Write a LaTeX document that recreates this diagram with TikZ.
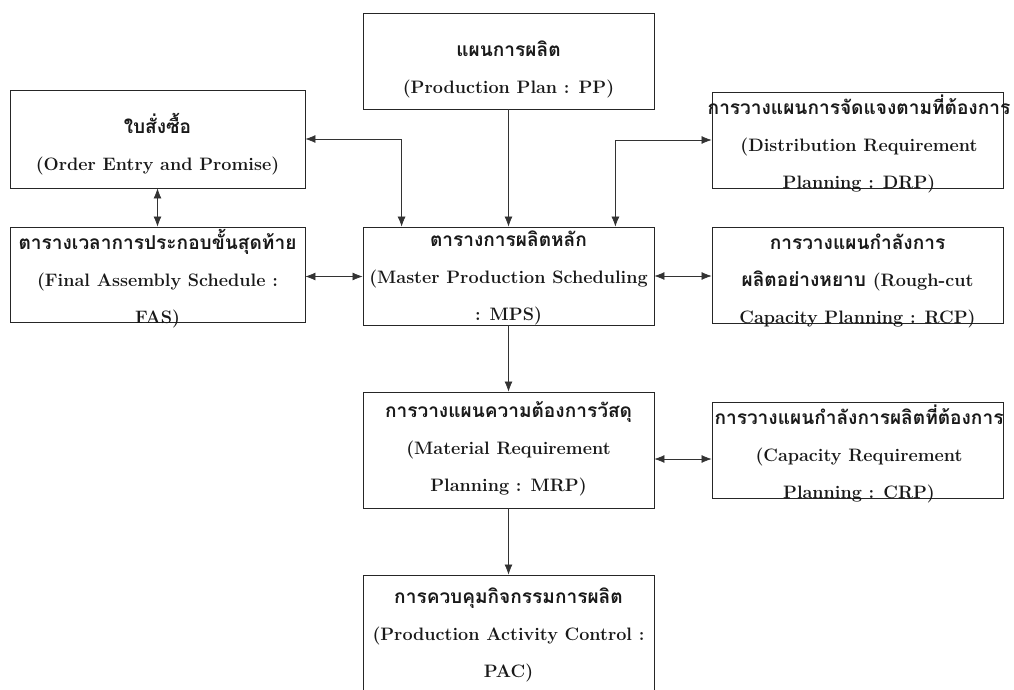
\documentclass[tikz,border=0pt]{standalone}
\usepackage{fontspec}
\newfontfamily\thaifont[Script=Thai,Scale=1.06]{Loma}
\usetikzlibrary{arrows.meta}
\tikzset{
  box/.style={draw=black!85, line width=0.8pt, rectangle, inner sep=0pt},
  txt/.style={align=center, inner sep=0pt, text=black!90,
    font=\fontsize{18}{37}\selectfont\bfseries},
  arr/.style={draw=black!80, line width=0.7pt, -{Latex[length=10pt,width=8pt]}},
  darr/.style={draw=black!80, line width=0.7pt, {Latex[length=10pt,width=8pt]}-{Latex[length=10pt,width=8pt]}}
}
\begin{document}
\begin{tikzpicture}[x=1pt,y=-1pt]
\clip (0,0) rectangle (1014,690);
\fill[white] (0,0) rectangle (1014,690);
% boxes
\node[box, minimum width=291pt, minimum height=96pt] (pp) at (508.5,61) {};
\node[box, minimum width=295pt, minimum height=98pt] (order) at (157.5,139) {};
\node[box, minimum width=291pt, minimum height=96pt] (drp) at (857.5,140) {};
\node[box, minimum width=295pt, minimum height=95pt] (fas) at (157.5,274.5) {};
\node[box, minimum width=291pt, minimum height=98pt] (mps) at (508.5,276) {};
\node[box, minimum width=291pt, minimum height=96pt] (rcp) at (857.5,275) {};
\node[box, minimum width=291pt, minimum height=116pt] (mrp) at (508.5,450) {};
\node[box, minimum width=291pt, minimum height=96pt] (crp) at (857.5,450) {};
\node[box, minimum width=291pt, minimum height=125pt] (pac) at (508.5,637.5) {};
% texts
\node[txt] (tpp) at (508.5,69) {{\thaifont แผนการผลิต}\\(Production Plan : PP)};
\node[txt] (torder) at (157.5,144) {{\thaifont ใบสั่งซื้อ}\\(Order Entry and Promise)};
\node[txt] (tdrp) at (859,144) {{\thaifont การวางแผนการจัดแจงตามที่ต้องการ}\\(Distribution Requirement\\Planning : DRP)};
\node[txt] (tfas) at (157.5,279) {{\thaifont ตารางเวลาการประกอบขั้นสุดท้าย}\\(Final Assembly Schedule :\\FAS)};
\node[txt] (tmps) at (508.5,278) {{\thaifont ตารางการผลิตหลัก}\\(Master Production Scheduling\\: MPS)};
\node[txt] (trcp) at (857.5,281) {{\thaifont การวางแผนกำลังการ}\\{\thaifont ผลิตอย่างหยาบ} (Rough-cut\\Capacity Planning : RCP)};
\node[txt] (tmrp) at (508.5,449) {{\thaifont การวางแผนความต้องการวัสดุ}\\(Material Requirement\\Planning : MRP)};
\node[txt] (tcrp) at (859,454) {{\thaifont การวางแผนกำลังการผลิตที่ต้องการ}\\(Capacity Requirement\\Planning : CRP)};
\node[txt] (tpac) at (508.5,635) {{\thaifont การควบคุมกิจกรรมการผลิต}\\(Production Activity Control :\\PAC)};
% connectors
\draw[arr] (pp.south) -- (mps.north);
\draw[darr] (order.east) -| ([xshift=39pt]mps.north west);
\draw[darr] (drp.west) -| ([xshift=-39pt]mps.north east);
\draw[darr] (order.south) -- (fas.north);
\draw[darr] ([yshift=-2pt]fas.east) -- ([yshift=-2pt]fas.east -| mps.west);
\draw[darr] (mps.east) -- (mps.east -| rcp.west);
\draw[arr] (mps.south) -- (mrp.north);
\draw[darr] ([yshift=-9pt]mrp.east) -- ([yshift=-9pt]mrp.east -| crp.west);
\draw[arr] (mrp.south) -- (pac.north);
\end{tikzpicture}
\end{document}
